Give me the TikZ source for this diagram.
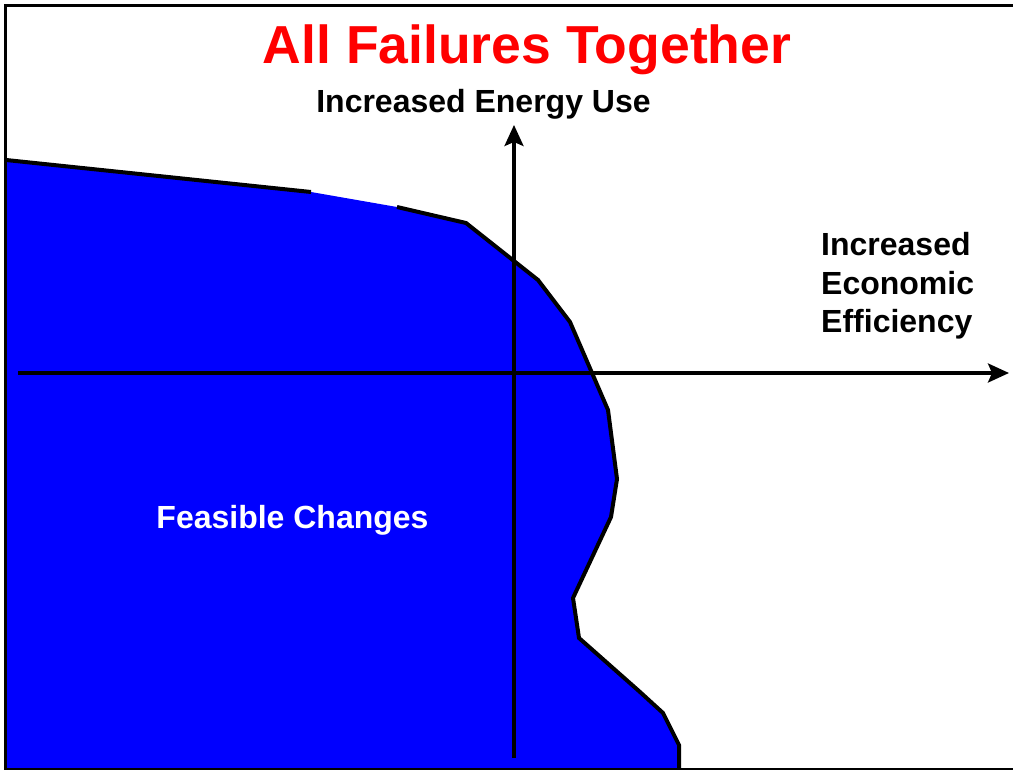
\documentclass[tikz,border=0pt]{standalone}
\usepackage{fontspec}
\setmainfont{Liberation Sans}
\usetikzlibrary{arrows.meta}
\definecolor{regionblue}{RGB}{0,0,255}
\definecolor{titlered}{RGB}{255,0,0}
\begin{document}
\begin{tikzpicture}[x=1pt,y=-1pt,
  frameline/.style={line width=3pt,black},
  axisline/.style={line width=3.2pt,black,-{Stealth[length=21pt,width=19pt,inset=4pt]}},
  boundary/.style={line width=4pt,black,line join=miter},
  label/.style={font=\bfseries\fontsize{32}{38}\selectfont,inner sep=0pt}]
\useasboundingbox (0,0) rectangle (1013,770);
\fill[white] (0,0) rectangle (1013,770);

% feasible region
\fill[regionblue] (6,160) -- (311,192) -- (397,207) -- (466,223) -- (538,280)
  -- (570,322) -- (608,410) -- (617,479) -- (611,517) -- (573,598) -- (579,638)
  -- (640,692) -- (663,713) -- (679,745) -- (679,772) -- (6,772) -- cycle;
% its frontier, left open between the two upper points
\draw[boundary] (6,160) -- (311,192);
\draw[boundary] (397,207) -- (466,223) -- (538,280) -- (570,322) -- (608,410)
  -- (617,479) -- (611,517) -- (573,598) -- (579,638) -- (640,692) -- (663,713)
  -- (679,745) -- (679,772);

% frame
\draw[frameline] (5.5,6) -- (1013,6);
\draw[frameline] (5.5,4.5) -- (5.5,770);
\draw[line width=2pt,black] (4.5,769) -- (1013,769);

% axes
\coordinate (xstart) at (18,373);
\coordinate (xend) at (1009,373);
\coordinate (ystart) at (514,758);
\coordinate (yend) at (514,125);
\draw[axisline] (xstart) -- (xend);
\draw[axisline] (ystart) -- (yend);

% texts
\node[label,text=titlered,font=\bfseries\fontsize{53.5}{60}\selectfont,anchor=base]
  (title) at (527,64) {All Failures Together};
\node[label,anchor=base] (ylabel) at (483.5,113) {Increased Energy Use};
\node[label,anchor=base west] (xlabA) at (821,256) {Increased};
\node[label,anchor=base west] (xlabB) at (821,295) {Economic};
\node[label,anchor=base west] (xlabC) at (821,333) {Efficiency};
\node[label,text=white,anchor=base] (region) at (292.5,528) {Feasible Changes};
\end{tikzpicture}
\end{document}
